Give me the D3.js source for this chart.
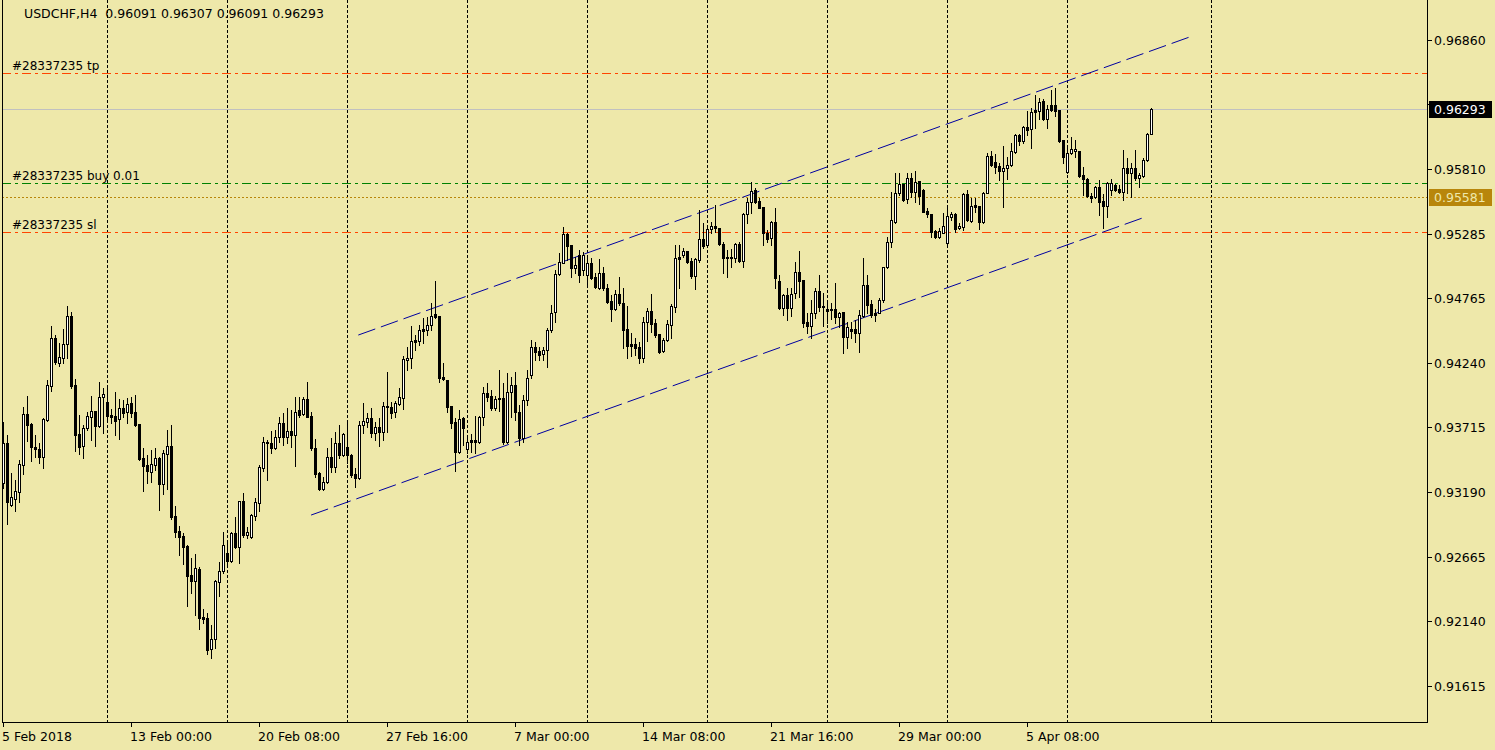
<!DOCTYPE html>
<html><head><meta charset="utf-8">
<script src="https://cdn.jsdelivr.net/npm/d3@7"></script>
<style>html,body{margin:0;padding:0;background:#EEE8AA;overflow:hidden}</style>
</head><body>
<svg id="chart" width="1495" height="750"></svg>
<script>
// ---- DATA (prices in points, 1 point = 0.00001) ----
const symbolTitle = "USDCHF,H4";
const POINT = 0.00001;
const opens = [93263,93587,93084,93133,93190,93409,93822,93741,93555,93539,93474,93774,94050,94439,94236,94277,94390,94617,94058,93660,93563,93709,93798,93847,93725,93960,93920,93814,93806,93782,93871,93839,93912,93839,93741,93466,93409,93352,93409,93466,93255,93498,93563,92995,92874,92833,92752,92517,92468,92565,92176,92168,91917,91998,92460,92549,92695,92630,92857,92744,93117,92841,92825,92995,93101,93385,93595,93587,93547,93636,93750,93636,93685,93652,93855,93822,93944,93806,93547,93344,93214,93271,93474,93393,93587,93490,93555,93490,93336,93303,93733,93758,93790,93668,93717,93677,93887,93879,93839,93904,93952,94260,94277,94423,94415,94512,94504,94544,94633,94617,94122,94098,93887,93758,93514,93790,93539,93612,93612,93595,93798,93993,93968,93871,93944,93952,93595,94001,94058,93839,93628,93936,94139,94366,94333,94309,94341,94504,94650,94958,95047,95282,95193,95006,95112,94990,94950,95047,94934,94844,94966,94844,94739,94674,94796,94723,94512,94390,94390,94366,94277,94569,94658,94560,94471,94333,94423,94544,94690,95096,95112,95144,95063,94942,95071,95242,95193,95323,95347,95331,95201,95096,95096,95088,95201,95063,95444,95542,95639,95550,95501,95290,95250,95380,94901,94682,94788,94682,94804,94974,94909,94569,94536,94642,94820,94698,94674,94674,94674,94609,94650,94447,94512,94512,94479,94617,94869,94715,94642,94642,94747,95015,95217,95380,95615,95688,95566,95736,95623,95712,95639,95469,95444,95307,95258,95290,95209,95420,95444,95331,95339,95607,95388,95517,95509,95380,95615,95915,95866,95834,95793,95818,95842,95947,96085,96036,96150,96134,96288,96280,96361,96215,96328,96328,96288,96045,95785,95939,95955,95955,95761,95728,95590,95582,95664,95550,95509,95639,95680,95647,95623,95818,95777,95818,95736,95753,95882,96091];
const highs = [93758,93652,93344,93287,93449,93879,93968,93750,93652,93587,93790,94098,94536,94463,94398,94512,94698,94650,94106,93814,93733,93839,93968,93850,94082,94033,94050,93863,94001,93944,93936,93952,93960,93977,93745,93547,93490,93530,93547,93470,93530,93693,93733,93076,92914,92857,92760,92655,92687,92582,92241,92209,92111,92476,92622,92865,92801,92865,92987,93120,93182,92906,93010,93141,93409,93636,93612,93685,93693,93798,93831,93871,93855,93960,93960,93960,94082,93839,93620,93350,93311,93547,93628,93677,93733,93668,93758,93495,93385,93766,93912,93831,93871,93758,93790,93920,94163,93920,93928,94033,94293,94366,94536,94463,94544,94601,94609,94723,94901,94620,94236,94100,93890,93790,93855,93795,93652,93660,93806,93806,94041,94074,94017,93968,94179,94074,94155,94122,94163,93895,93977,94179,94423,94406,94366,94366,94520,94706,94990,95128,95339,95290,95195,95096,95152,95136,95096,95088,94966,95080,95015,94877,94788,94828,94934,94844,94698,94479,94439,94406,94609,94682,94796,94593,94475,94439,94585,94715,95193,95193,95169,95148,95088,95088,95477,95372,95355,95380,95517,95335,95217,95152,95161,95209,95217,95453,95574,95704,95655,95574,95505,95315,95385,95493,94950,94792,94844,94844,95055,95144,94912,94642,94747,94844,94950,94804,94723,94723,94885,94650,94653,94569,94569,94585,94666,95088,94950,94747,94674,94763,95018,95258,95623,95777,95777,95690,95777,95777,95793,95715,95647,95493,95448,95315,95331,95453,95501,95461,95453,95372,95615,95639,95574,95574,95512,95623,95939,95955,95931,95858,95996,95907,96020,96093,96093,96158,96280,96304,96410,96385,96377,96328,96450,96466,96292,96048,95988,96069,96045,95958,95826,95736,95615,95672,95720,95607,95704,95728,95688,95680,95963,95899,95858,95963,95777,95899,96101,96307];
const lows = [93222,92930,93076,93036,93109,93336,93604,93441,93474,93425,93385,93766,94009,94228,94212,94236,94277,94033,93522,93498,93466,93693,93612,93563,93720,93668,93758,93750,93652,93620,93798,93750,93798,93725,93450,93198,93263,93271,93368,93044,93174,93214,92971,92825,92679,92606,92265,92371,92192,92079,92127,91876,91844,91925,92346,92533,92598,92622,92736,92614,92825,92817,92820,92963,93036,93360,93287,93506,93540,93595,93571,93587,93555,93401,93798,93814,93795,93530,93311,93210,93206,93265,93352,93352,93466,93485,93425,93311,93230,93295,93668,93717,93636,93612,93563,93612,93677,93790,93798,93895,93863,94179,94195,94341,94382,94398,94463,94504,94605,94082,94098,93839,93709,93360,93506,93571,93506,93514,93506,93587,93733,93928,93855,93855,93847,93579,93587,93798,93774,93571,93596,93895,94114,94260,94260,94260,94204,94487,94569,94950,95045,95071,94934,94966,94893,94950,94869,94917,94844,94840,94828,94723,94577,94666,94706,94358,94277,94293,94301,94236,94244,94415,94487,94447,94320,94325,94415,94439,94650,94844,95096,95047,94925,94836,95055,95169,95190,95290,95298,95193,94966,94934,95015,95055,95055,95015,95372,95453,95538,95490,95193,95217,95193,94844,94674,94625,94585,94617,94763,94771,94528,94479,94439,94601,94658,94536,94560,94593,94560,94528,94317,94358,94439,94407,94325,94609,94642,94609,94577,94638,94731,95010,95177,95372,95599,95550,95534,95582,95542,95526,95458,95420,95258,95250,95250,95287,95193,95396,95298,95323,95315,95388,95380,95461,95323,95372,95612,95834,95777,95720,95501,95728,95834,95939,96004,96020,96085,95980,96142,96215,96207,96142,96280,96239,96030,95858,95777,95931,95907,95745,95599,95582,95542,95574,95436,95331,95420,95599,95631,95615,95558,95615,95582,95720,95664,95745,95874,96091];
const closes = [93587,93109,93149,93198,93417,93822,93733,93555,93539,93474,93782,94058,94439,94244,94285,94390,94617,94050,93652,93555,93709,93806,93847,93725,93960,93985,93806,93798,93766,93871,93831,93904,93831,93733,93457,93401,93360,93417,93466,93255,93506,93563,92987,92865,92825,92744,92509,92468,92574,92168,92160,91908,91998,92468,92549,92760,92630,92857,92744,93117,92841,92865,93003,93109,93393,93595,93587,93547,93636,93750,93636,93685,93652,93839,93814,93944,93798,93547,93336,93214,93271,93474,93393,93587,93490,93660,93490,93328,93303,93733,93766,93790,93668,93717,93677,93887,93879,93831,93912,93960,94268,94277,94415,94407,94504,94496,94544,94617,94609,94114,94106,93879,93750,93514,93782,93709,93595,93595,93595,93798,93993,93960,93871,93944,93952,93595,94001,94058,93839,93628,93936,94114,94366,94325,94301,94341,94504,94642,94958,95055,95282,95185,95006,95031,94950,95112,95047,94925,94852,94966,94844,94731,94674,94796,94723,94504,94374,94374,94358,94277,94569,94658,94552,94463,94325,94423,94552,94698,95088,95080,95144,95055,94942,95080,95242,95185,95323,95347,95331,95201,95088,95088,95088,95201,95063,95444,95542,95631,95542,95493,95290,95242,95380,94925,94682,94788,94682,94796,94974,94901,94560,94536,94642,94820,94690,94690,94658,94666,94609,94642,94447,94528,94496,94479,94625,94869,94706,94625,94625,94747,95015,95217,95396,95615,95688,95558,95736,95623,95704,95590,95461,95444,95298,95258,95307,95347,95428,95444,95323,95347,95607,95396,95509,95501,95380,95615,95915,95842,95826,95793,95818,95842,95955,96085,96036,96150,96126,96272,96272,96353,96215,96296,96288,96280,96036,95907,95939,95972,95972,95753,95728,95590,95574,95664,95542,95509,95696,95696,95639,95623,95818,95777,95818,95736,95761,95882,96093,96293];

const priceTicks = [0.96860,0.96335,0.95810,0.95285,0.94765,0.94240,0.93715,0.93190,0.92665,0.92140,0.91615];
const timeLabels = ["5 Feb 2018","13 Feb 00:00","20 Feb 08:00","27 Feb 16:00","7 Mar 00:00","14 Mar 08:00","21 Mar 16:00","29 Mar 00:00","5 Apr 08:00"];
const timeLabelBars = [1,33,65,97,129,161,193,225,257];
const weekGridBars = [27,57,87,117,147,177,207,237,267,303];
const orderNames = ["#28337235 tp","#28337235 buy 0.01","#28337235 sl"];
const orderPrices = [0.96590,0.95700,0.95300];
const markerPrice = 0.95581;
const upperChannel = [[89.7,0.94463],[298.2,0.96888]];
const lowerChannel = [[77.9,0.93003],[286.4,0.95420]];

// ---- CHART ----
const W=1495,H=750, axisX=1427, axisY=722, leftX=2;
const svg=d3.select("#chart");
const FONT="DejaVu Sans, Verdana, sans-serif";
const bars=opens.map((o,i)=>({n:i+1,o:o*POINT,h:highs[i]*POINT,l:lows[i]*POINT,c:closes[i]*POINT}));
const last=bars[bars.length-1];
const x=d3.scaleLinear().domain([1,bars.length]).range([3,3+4*(bars.length-1)]);
const y=d3.scaleLinear().domain([0.91615,0.96860]).range([686.2,39.5]);

svg.append("rect").attr("width",W).attr("height",H).attr("fill","#EEE8AA");

svg.append("defs").append("clipPath").attr("id","plot").append("rect")
  .attr("x",leftX).attr("y",0).attr("width",axisX-leftX).attr("height",axisY);
const plot=svg.append("g").attr("clip-path","url(#plot)");

// weekly grid
plot.append("g").selectAll("line").data(weekGridBars).join("line")
  .attr("x1",d=>Math.round(x(d))+0.5).attr("x2",d=>Math.round(x(d))+0.5)
  .attr("y1",0).attr("y2",axisY)
  .attr("stroke","#000").attr("stroke-width",1).attr("stroke-dasharray","3,2");

// horizontal levels
const hl=(p,color,dash)=>plot.append("line").attr("x1",leftX).attr("x2",axisX)
  .attr("y1",Math.round(y(p))+0.5).attr("y2",Math.round(y(p))+0.5)
  .attr("stroke",color).attr("stroke-width",1).attr("stroke-dasharray",dash);
hl(last.c,"#C0C0C0",null);
hl(markerPrice,"#B8860B","2,2");
hl(orderPrices[0],"#FF4500","9,4,3,4");
hl(orderPrices[1],"#008000","9,4,3,4");
hl(orderPrices[2],"#FF4500","9,4,3,4");

// channel
[upperChannel,lowerChannel].forEach(seg=>{
  plot.append("line").attr("x1",x(seg[0][0])+0.5).attr("y1",y(seg[0][1]))
    .attr("x2",x(seg[1][0])+0.5).attr("y2",y(seg[1][1]))
    .attr("stroke","#0000A0").attr("stroke-width",1).attr("stroke-dasharray","18,6");
});

// candles
const cg=plot.append("g").attr("shape-rendering","crispEdges");
const cand=cg.selectAll("g").data(bars).join("g");
cand.append("rect").attr("x",d=>Math.round(x(d.n))).attr("y",d=>Math.round(y(d.h)))
  .attr("width",1).attr("height",d=>Math.max(1,Math.round(y(d.l))-Math.round(y(d.h))+1)).attr("fill","#000");
cand.append("rect").attr("x",d=>Math.round(x(d.n))-1)
  .attr("y",d=>Math.min(Math.round(y(d.o)),Math.round(y(d.c))))
  .attr("width",3).attr("height",d=>Math.abs(Math.round(y(d.o))-Math.round(y(d.c)))+1).attr("fill","#000");
cand.filter(d=>d.c>d.o && Math.abs(Math.round(y(d.o))-Math.round(y(d.c)))>=2)
  .append("rect").attr("x",d=>Math.round(x(d.n)))
  .attr("y",d=>Math.round(y(d.c))+1).attr("width",1)
  .attr("height",d=>Math.round(y(d.o))-Math.round(y(d.c))-1).attr("fill","#fff");

// order labels
plot.append("g").selectAll("text").data(orderNames).join("text")
  .attr("x",12).attr("y",(d,i)=>Math.round(y(orderPrices[i]))-3)
  .attr("font-family",FONT).attr("font-size",12).attr("fill","#000").text(d=>d);

// frame / axes
const ax=svg.append("g").attr("shape-rendering","crispEdges");
ax.append("line").attr("x1",leftX+0.5).attr("x2",leftX+0.5).attr("y1",0).attr("y2",axisY).attr("stroke","#000");
ax.append("line").attr("x1",axisX+0.5).attr("x2",axisX+0.5).attr("y1",0).attr("y2",axisY+1).attr("stroke","#000");
ax.append("line").attr("x1",leftX).attr("x2",axisX+1).attr("y1",axisY+0.5).attr("y2",axisY+0.5).attr("stroke","#000");

// price axis (labels hidden under a price tag are not drawn, as in the reference)
const tagPrices=[markerPrice,last.c];
const pa=svg.append("g");
pa.selectAll("line").data(priceTicks).join("line")
  .attr("x1",axisX).attr("x2",axisX+5).attr("y1",d=>Math.round(y(d))+0.5).attr("y2",d=>Math.round(y(d))+0.5)
  .attr("stroke","#000").attr("shape-rendering","crispEdges");
pa.selectAll("text").data(priceTicks.filter(t=>tagPrices.every(p=>Math.abs(y(t)-y(p))>14))).join("text")
  .attr("x",axisX+7).attr("y",d=>Math.round(y(d))+5)
  .attr("font-family",FONT).attr("font-size",12.5).attr("fill","#000").text(d=>d.toFixed(5));

const tag=(p,bg,fg)=>{
  const yy=Math.round(y(p));
  pa.append("rect").attr("x",axisX+2).attr("y",yy-8).attr("width",63).attr("height",17).attr("fill",bg);
  pa.append("text").attr("x",axisX+7).attr("y",yy+5).attr("font-family",FONT).attr("font-size",12.5)
    .attr("fill",fg).text(p.toFixed(5));
};
tag(markerPrice,"#B8860B","#EEE8AA");
tag(last.c,"#000","#fff");

// time axis
const ta=svg.append("g");
ta.selectAll("line").data(timeLabelBars).join("line")
  .attr("x1",d=>Math.round(x(d))+0.5).attr("x2",d=>Math.round(x(d))+0.5)
  .attr("y1",axisY).attr("y2",axisY+5).attr("stroke","#000").attr("shape-rendering","crispEdges");
ta.selectAll("text").data(timeLabels).join("text")
  .attr("x",(d,i)=>Math.round(x(timeLabelBars[i]))-1).attr("y",axisY+19)
  .attr("font-family",FONT).attr("font-size",12.5).attr("fill","#000").text(d=>d);

// title
svg.append("text").attr("x",24).attr("y",18).attr("font-family",FONT).attr("font-size",12.5).attr("fill","#000")
  .attr("xml:space","preserve")
  .text(symbolTitle+"  "+[last.o,last.h,last.l,last.c].map(v=>v.toFixed(5)).join(" "));
</script>
</body></html>
